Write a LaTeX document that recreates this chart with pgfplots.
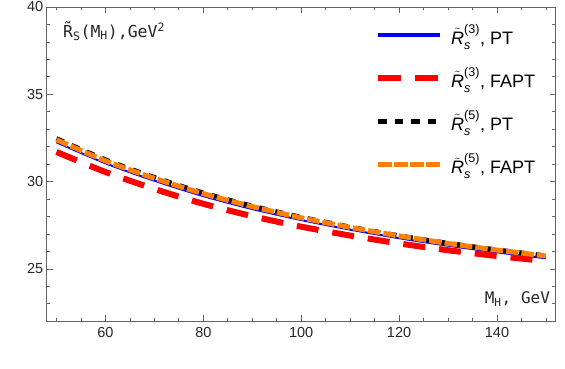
\documentclass[border=0pt]{standalone}
\usepackage{amsmath}
\usepackage{fontspec}
\setmainfont{Liberation Sans}
\newfontfamily\monofont{DejaVu Sans Mono}
\usepackage{pgfplots}
\usepackage{pgfplotstable}
\pgfplotsset{compat=1.18}
\usetikzlibrary{calc}
\definecolor{framegray}{RGB}{100,100,100}
\definecolor{mmaorange}{RGB}{255,128,0}

% R_s(M_H) curves
\pgfplotstableread{
M   blue  red   black orange
50  32.25 31.70 32.47 32.40
60  31.05 30.55 31.26 31.19
70  30.05 29.58 30.25 30.19
80  29.17 28.73 29.36 29.31
90  28.43 28.02 28.61 28.57
100 27.80 27.42 27.97 27.93
110 27.25 26.91 27.41 27.38
120 26.76 26.46 26.91 26.89
130 26.33 26.07 26.48 26.46
140 25.95 25.74 26.10 26.08
150 25.61 25.45 25.76 25.74
}\curves

\begin{document}
\begin{tikzpicture}
\begin{axis}[
  scale only axis,
  width=509pt, height=314.3pt,
  xmin=48, xmax=152, ymin=22, ymax=40,
  xtick={60,80,...,140}, ytick={25,30,35,40},
  minor xtick={50,55,...,150}, minor ytick={23,24,...,39},
  axis line style={framegray, line width=0.8pt},
  tick style={framegray, line width=0.8pt},
  major tick length=6pt, minor tick length=3.5pt,
  tick align=inside,
  ticklabel style={font=\fontsize{14.5}{16}\selectfont, text=black!85},
  /pgf/number format/assume math mode=true,
  xticklabel style={yshift=-3pt},
  legend image code/.code={\draw[#1] (0pt,0pt) -- (62pt,0pt);},
  legend style={at={(rel axis cs:0.645,0.953)}, anchor=north west,
    draw=none, fill=none, inner sep=0pt,
    font=\fontsize{18}{21}\selectfont, row sep=16.8pt,
    /tikz/every odd column/.append style={column sep=6pt}},
  legend cell align=left,
]
\addplot[blue, line width=2pt, smooth, forget plot] table[x=M, y=blue] {\curves};
\addplot[red, line width=6pt, smooth, dash pattern=on 22pt off 14pt, forget plot] table[x=M, y=red] {\curves};
\addplot[black, line width=4.5pt, smooth, dash pattern=on 8pt off 8.5pt, forget plot] table[x=M, y=black] {\curves};
\addplot[mmaorange, line width=5pt, smooth, dash pattern=on 12.5pt off 3pt, forget plot] table[x=M, y=orange] {\curves};

\addlegendimage{blue, line width=4.7pt}
\addlegendentry{$\tilde{\text{\itshape R}}_{\text{\itshape s}}^{\text{(3)}}$, PT}
\addlegendimage{red, line width=6pt, dash pattern=on 23pt off 14pt}
\addlegendentry{$\tilde{\text{\itshape R}}_{\text{\itshape s}}^{\text{(3)}}$, FAPT}
\addlegendimage{black, line width=5pt, dash pattern=on 8.3pt off 8.3pt}
\addlegendentry{$\tilde{\text{\itshape R}}_{\text{\itshape s}}^{\text{(5)}}$, PT}
\addlegendimage{mmaorange, line width=5pt, dash pattern=on 13.3pt off 2.7pt}
\addlegendentry{$\tilde{\text{\itshape R}}_{\text{\itshape s}}^{\text{(5)}}$, FAPT}

\node[anchor=west, inner sep=0pt, text=black!85, font=\monofont\fontsize{16.5}{18}\selectfont]
  at (rel axis cs:0.032,0.924) {\~{R}\textsubscript{S}(M\textsubscript{H}),GeV\textsuperscript{2}};
\node[anchor=east, inner sep=0pt, text=black!85, font=\monofont\fontsize{16}{18}\selectfont]
  at (rel axis cs:0.989,0.07) {M\textsubscript{H}, GeV};
\end{axis}
\pgfresetboundingbox
\path ($(current axis.south west)+(-46.7pt,-47.7pt)$) rectangle ($(current axis.north east)+(9.3pt,7pt)$);
\end{tikzpicture}
\end{document}
